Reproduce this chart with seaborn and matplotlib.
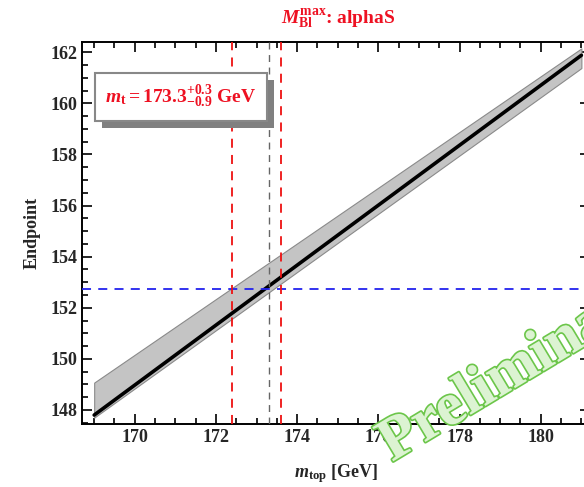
import numpy as np
import pandas as pd
import matplotlib
matplotlib.use("Agg")
import matplotlib.pyplot as plt
import matplotlib.patheffects as pe
from matplotlib.ticker import MultipleLocator
import seaborn as sns

# values
mtop = [169.0, 181.0]
endpoint_central = [147.80, 161.88]
band_lower = [147.70, 161.38]
band_upper = [149.07, 162.15]
endpoint_measured = 152.75
mt_central = 173.3
mt_err_up = 0.3
mt_err_down = 0.9

df = pd.DataFrame({"mtop": mtop, "endpoint": endpoint_central,
                   "lo": band_lower, "hi": band_upper})

sns.set_style("ticks")
plt.rcParams["font.family"] = ["Liberation Serif", "DejaVu Serif"]
plt.rcParams["font.weight"] = "bold"
plt.rcParams["axes.labelweight"] = "bold"
plt.rcParams["mathtext.fontset"] = "custom"
plt.rcParams["mathtext.rm"] = "Liberation Serif:bold"
plt.rcParams["mathtext.it"] = "Liberation Serif:italic:bold"
plt.rcParams["mathtext.bf"] = "Liberation Serif:bold"

W, H = 584, 487
fig = plt.figure(figsize=(W / 100, H / 100), dpi=100)
fig.patch.set_facecolor("white")

xlim = (168.7, 181.2)
ylim = (147.45, 162.4)
left_px, top_px, bot_px = 82, 42, 424
px_per_unit = 40.6
ax_w = (xlim[1] - xlim[0]) * px_per_unit
ax = fig.add_axes([left_px / W, 1 - bot_px / H, ax_w / W, (bot_px - top_px) / H])

ax.fill_between(df["mtop"], df["lo"], df["hi"], color="#c4c4c4",
                edgecolor="#8a8a8a", lw=0.8, zorder=1)
sns.lineplot(data=df, x="mtop", y="endpoint", color="black", lw=2.6, ax=ax, zorder=3)

ax.axhline(endpoint_measured, color="#2222ee", ls=(0, (5, 4)), lw=1.3, zorder=4)
ax.axvline(mt_central - mt_err_down, color="#ee1111", ls=(0, (5, 4)), lw=1.3, zorder=4)
ax.axvline(mt_central + mt_err_up, color="#ee1111", ls=(0, (5, 4)), lw=1.3, zorder=4)
ax.axvline(mt_central, color="#666666", ls=(0, (5, 4)), lw=1.0, zorder=4)

ax.set_xlim(*xlim)
ax.set_ylim(*ylim)
ax.xaxis.set_major_locator(MultipleLocator(2))
ax.xaxis.set_minor_locator(MultipleLocator(0.5))
ax.yaxis.set_major_locator(MultipleLocator(2))
ax.yaxis.set_minor_locator(MultipleLocator(0.5))
ax.tick_params(which="both", direction="in", top=True, right=True,
               labelsize=13, width=1.2, color="black")
ax.tick_params(which="major", length=7)
ax.tick_params(which="minor", length=4)
for s in ax.spines.values():
    s.set_linewidth(1.4)
    s.set_color("black")

ax.set_xlabel(r"$m_{\rm top}$ [GeV]", fontsize=13, labelpad=12)
ax.set_ylabel("Endpoint", fontsize=13, labelpad=7)
fig.text(338 / W, 1 - 19 / H, r"$M_{\rm Bl}^{\rm max}$: alphaS", color="#ee1122",
         fontsize=14, ha="center", va="center")

# label box with shadow
box = dict(boxstyle="square,pad=0.55", fc="white", ec="#888888", lw=1.5)
t = fig.text(181 / W, 1 - 97 / H,
             r"$m_{\rm t} = 173.3^{+0.3}_{-0.9}$ GeV", color="#ee1122",
             fontsize=14, ha="center", va="center", bbox=box, zorder=10)
t.get_bbox_patch().set_path_effects([pe.SimplePatchShadow(offset=(5, -5), shadow_rgbFace="#808080", alpha=1.0),
                                     pe.Normal()])

# watermark (cut off at the right edge, as in the original)
fig.text(392 / W, 1 - 462 / H, "Preliminary", fontsize=44, rotation=31,
         rotation_mode="anchor", ha="left", va="baseline", color="#dcf3d2",
         path_effects=[pe.withStroke(linewidth=2.4, foreground="#6cc64a")], zorder=20)

fig.savefig("out.png", dpi=100)
